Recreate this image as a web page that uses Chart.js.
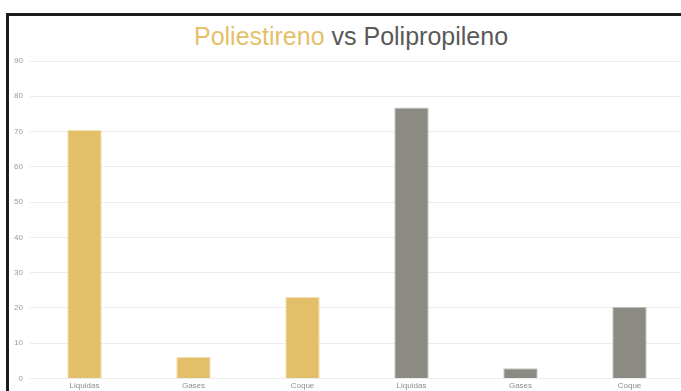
<!DOCTYPE html>
<html>
<head>
<meta charset="utf-8">
<script src="https://cdn.jsdelivr.net/npm/chart.js@4"></script>
<style>
  html, body { margin: 0; padding: 0; background: #fff; width: 681px; height: 391px; overflow: hidden; }
  #frame { position: absolute; left: 6px; top: 13px; width: 690px; height: 400px; border-top: 3px solid #1c1c1c; border-left: 3px solid #1c1c1c; }
  #title { position: absolute; left: 0; top: 22px; width: 702px; text-align: center; font-family: "Liberation Sans", Arial, sans-serif; font-size: 25px; color: #595959; white-space: nowrap; }
  #title .ps { color: #E5BF6A; }
  #wrap { position: absolute; left: 8px; top: 17px; width: 676px; height: 377px; }
</style>
</head>
<body>
<div id="frame"></div>
<div id="title"><span class="ps">Poliestireno</span> vs Polipropileno</div>
<div id="wrap"><canvas id="c"></canvas></div>
<script>
const categories = ['Liquidas', 'Gases', 'Coque'];
const poliestireno = [70.4, 6.1, 23.1];
const polipropileno = [76.8, 2.9, 20.3];
const yTicks = [0, 10, 20, 30, 40, 50, 60, 70, 80, 90];

const labels = categories.concat(categories);
const psData = poliestireno.concat(categories.map(() => null));
const ppData = categories.map(() => null).concat(polipropileno);

new Chart(document.getElementById('c'), {
  type: 'bar',
  data: {
    labels: labels,
    datasets: [
      { label: 'Poliestireno', data: psData, backgroundColor: '#E4BF6A', borderColor: '#F2DFB2', borderWidth: 1, grouped: false },
      { label: 'Polipropileno', data: ppData, backgroundColor: '#8B8B84', borderColor: '#C4C4BE', borderWidth: 1, grouped: false }
    ]
  },
  options: {
    responsive: true,
    maintainAspectRatio: false,
    animation: false,
    devicePixelRatio: 1,
    layout: { padding: { top: 44, right: 0, bottom: 0, left: 0 } },
    categoryPercentage: 1,
    barPercentage: 0.316,
    plugins: { legend: { display: false }, title: { display: false }, tooltip: { enabled: false } },
    scales: {
      x: {
        grid: { display: false, drawTicks: false },
        border: { display: false },
        ticks: { color: '#8c8c8c', font: { family: '"Liberation Sans", Arial', size: 8 }, padding: 3, maxRotation: 0, autoSkip: false }
      },
      y: {
        min: 0, max: 90,
        afterBuildTicks: (s) => { s.ticks = yTicks.map(v => ({ value: v })); },
        afterFit: (s) => { s.width = 22; },
        grid: { color: '#ececec', lineWidth: 1, drawTicks: false },
        border: { display: false },
        ticks: { color: '#9a9a9a', font: { family: '"Liberation Sans", Arial', size: 8 }, padding: 7 }
      }
    }
  }
});
</script>
</body>
</html>
